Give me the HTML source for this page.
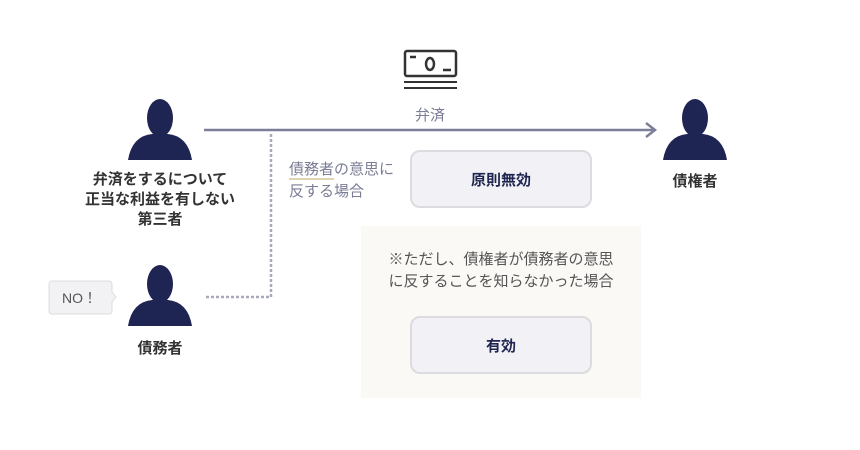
<!DOCTYPE html>
<html><head><meta charset="utf-8"><style>
body{margin:0;width:860px;height:450px;background:#fff;position:relative;overflow:hidden;font-family:"Liberation Sans","Noto Sans CJK JP",sans-serif;}
.t{position:absolute;white-space:nowrap;font-size:15px;}
.box{position:absolute;background:#f2f2f6;border:2px solid #dcdce0;border-radius:10px;box-sizing:border-box;display:flex;align-items:center;justify-content:center;font-size:15px;font-weight:bold;color:#1f2550;}
</style></head><body>
<div style="position:absolute;left:361px;top:226px;width:280px;height:172px;background:#faf9f6"></div>
<svg width="860" height="450" style="position:absolute;left:0;top:0">
<defs><g id="p"><ellipse cx="0" cy="-12" rx="13" ry="19" fill="#1f2552"/><path d="M-32 30 Q-28 6 -8 4 L8 4 Q28 6 32 30 Z" fill="#1f2552"/></g></defs>
<use href="#p" x="160" y="130"/>
<use href="#p" x="695" y="130"/>
<use href="#p" x="160" y="296"/>
<line x1="204" y1="130" x2="654" y2="130" stroke="#7c7f9a" stroke-width="2.5"/>
<polyline points="646,123 655,130 646,137" fill="none" stroke="#7c7f9a" stroke-width="2.5"/>
<polyline points="271,134 271,297 205,297" fill="none" stroke="#a8aabb" stroke-width="2.5" stroke-dasharray="3,2"/>
<rect x="405" y="51" width="51" height="25" rx="2" fill="none" stroke="#333" stroke-width="2.5"/>
<line x1="410" y1="57" x2="416" y2="57" stroke="#333" stroke-width="2.5"/>
<line x1="443" y1="70" x2="451" y2="70" stroke="#333" stroke-width="2.5"/>
<ellipse cx="430" cy="64" rx="4" ry="6" fill="none" stroke="#333" stroke-width="2.5"/>
<line x1="404" y1="82" x2="457" y2="82" stroke="#333" stroke-width="2"/>
<line x1="404" y1="88" x2="457" y2="88" stroke="#333" stroke-width="2"/>
<path d="M52 281 H109 a3 3 0 0 1 3 3 V292 L116 297 L112 302 V311 a3 3 0 0 1 -3 3 H52 a3 3 0 0 1 -3 -3 V284 a3 3 0 0 1 3 -3Z" fill="#f2f2f4" stroke="#dcdce0"/>
</svg>
<div class="t" style="left:62px;top:288px;color:#555;font-size:14px">NO！</div>
<div class="t" style="left:415px;top:104px;color:#7a7d95">弁済</div>
<div class="t" style="left:60px;width:200px;text-align:center;top:170px;color:#333;font-weight:bold;line-height:20px">弁済をするについて<br>正当な利益を有しない<br>第三者</div>
<div class="t" style="left:645px;width:100px;text-align:center;top:170px;color:#333;font-weight:bold">債権者</div>
<div class="t" style="left:110px;width:100px;text-align:center;top:337px;color:#333;font-weight:bold">債務者</div>
<div class="t" style="left:289px;top:159px;color:#7a7d95;line-height:22px"><span style="border-bottom:2px solid #e0d4b0">債務者</span>の意思に<br>反する場合</div>
<div class="box" style="left:410px;top:150px;width:182px;height:58px">原則無効</div>
<div class="t" style="left:361px;width:280px;text-align:center;top:249px;color:#555;line-height:22px">※ただし、債権者が債務者の意思<br>に反することを知らなかった場合</div>
<div class="box" style="left:410px;top:316px;width:182px;height:58px">有効</div>
</body></html>
